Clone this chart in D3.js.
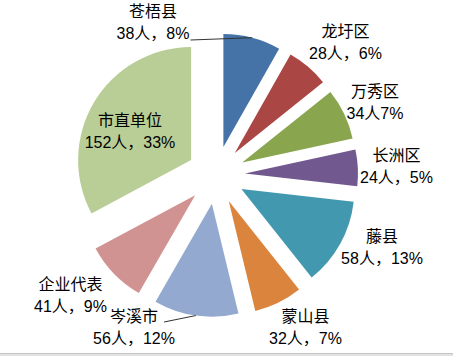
<!DOCTYPE html>
<html><head><meta charset="utf-8">
<script src="https://cdn.jsdelivr.net/npm/d3@7"></script>
<style>
html,body{margin:0;padding:0;background:#fff;}
svg{display:block;}
text{font-family:"Liberation Sans","Noto Sans CJK SC",sans-serif;font-size:16px;fill:#000;}
</style></head>
<body>
<script>
const categories = ["苍梧县","龙圩区","万秀区","长洲区","藤县","蒙山县","岑溪市","企业代表","市直单位"];
const counts = [38,28,34,24,58,32,56,41,152];
const percentLabels = ["8%","6%","7%","5%","13%","7%","12%","9%","33%"];
const colors = ["#4572A7","#AA4643","#89A54E","#71588F","#4198AF","#DB843D","#93A9CF","#D19392","#B9CD96"];

// layout (not data)
const W = 453, H = 356;
const cx = 216, cy = 175, R = 113, explode = 29;
// label anchors: centre x and baseline of the second line, leader flag
const labelAnchor = [[153,39,1],[345.5,59,0],[375,119,0],[396.5,183,0],[382,264,0],[305.5,344,0],[134,344,1],[70.5,312,0],[130,148,0]];
const lineGap = 22;

const svg = d3.select("body").append("svg").attr("width",W).attr("height",H);

const data = categories.map((c,i)=>({name:c, value:counts[i], pct:percentLabels[i], color:colors[i]}));
const pie = d3.pie().value(d=>d.value).sort(null);
const arcs = pie(data);
const arc = d3.arc().innerRadius(0).outerRadius(R);

const g = svg.append("g").attr("transform",`translate(${cx},${cy})`);
function polar(a, r){ return [Math.sin(a)*r, -Math.cos(a)*r]; }

g.selectAll("path.slice").data(arcs).enter().append("path")
  .attr("class","slice")
  .attr("fill",d=>d.data.color)
  .attr("transform",d=>{const m=(d.startAngle+d.endAngle)/2; const p=polar(m,explode); return `translate(${p[0]},${p[1]})`;})
  .attr("d",arc);

arcs.forEach((d,i)=>{
  const m=(d.startAngle+d.endAngle)/2;
  const [ax, ay, lead] = labelAnchor[i];
  const line2 = (d.data.name==="万秀区") ? `${d.data.value}人${d.data.pct}` : `${d.data.value}人，${d.data.pct}`;
  const t = svg.append("text").attr("text-anchor","middle");
  const s1 = t.append("tspan").attr("x",ax).attr("y",ay-lineGap).text(d.data.name);
  const s2 = t.append("tspan").attr("x",ax).attr("y",ay).text(line2);
  if(lead){
    const e = polar(m, R+explode);
    const end = [cx+e[0], cy+e[1]];
    let start;
    if(e[1] < 0){
      const w2 = s2.node().getComputedTextLength();
      start = [ax + w2/2 + 1, ay + 1];
    } else {
      const w1 = s1.node().getComputedTextLength();
      start = [ax + w1/2 + 6, ay - lineGap];
    }
    svg.append("line").attr("x1",start[0]).attr("y1",start[1]).attr("x2",end[0]).attr("y2",end[1])
      .attr("stroke","#333").attr("stroke-width",1);
  }
});

svg.append("rect").attr("x",0).attr("y",353).attr("width",W).attr("height",1).attr("fill","#c4c4c4");
svg.append("rect").attr("x",0).attr("y",354).attr("width",W).attr("height",2).attr("fill","#e2e2e2");
</script>
</body></html>
